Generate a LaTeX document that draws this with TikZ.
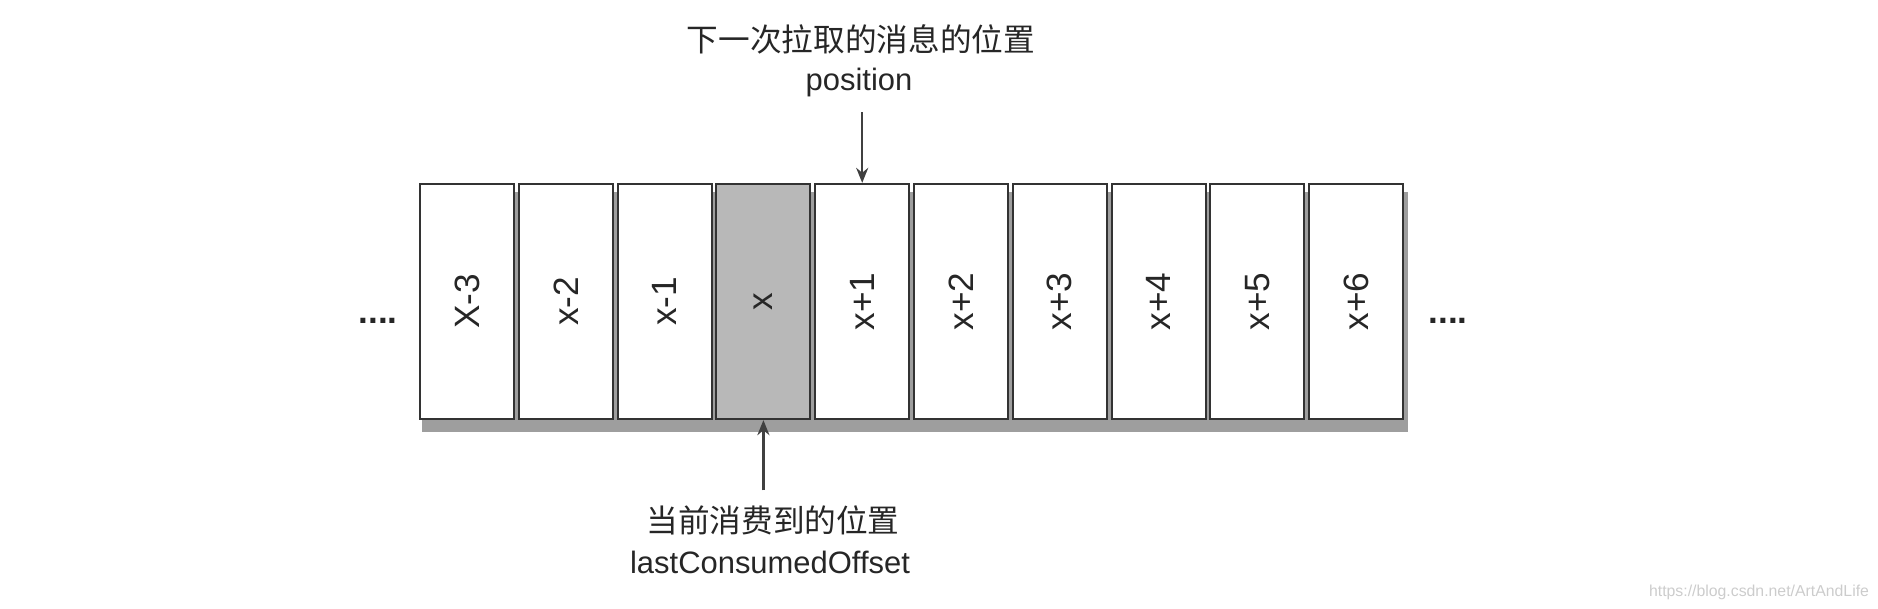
\documentclass[tikz,border=0pt]{standalone}
\usepackage{fontspec}
\setmainfont{Liberation Sans}
\newfontfamily\cjk{Noto Sans CJK SC}
\usetikzlibrary{arrows.meta}

\begin{document}
\begin{tikzpicture}[x=0.01cm,y=0.01cm,
  cell/.style={draw=black!80,line width=0.6pt,fill=white,minimum width=0.94cm,
    minimum height=2.35cm,inner sep=0pt,text=black!85,font=\fontsize{10pt}{12pt}\selectfont},
  cur/.style={cell,fill=black!28},
  lbl/.style={inner sep=0pt,text=black!85,font=\fontsize{8.8pt}{10pt}\selectfont},
  cn/.style={inner sep=0pt,text=black!85,font=\cjk\fontsize{9pt}{11pt}\selectfont},
  arr/.style={-{Stealth[length=0.15cm,width=0.12cm]},draw=black!75,line width=0.7pt}]
\useasboundingbox (0,0) rectangle (1878,608);
% shadow under the row
\fill[black!38] (422,176) rectangle (1408,416);
\foreach \t/\s [count=\i] in {X-3/cell,x-2/cell,x-1/cell,x/cur,x+1/cell,x+2/cell,x+3/cell,x+4/cell,x+5/cell,x+6/cell}
  \node[\s] (b\i) at ({467+98.8*(\i-1)},306.5) {\rotatebox{90}{\t}};
\node[lbl,font=\bfseries\fontsize{10pt}{12pt}\selectfont,anchor=base] (ldots) at (378,285) {....};
\node[lbl,font=\bfseries\fontsize{10pt}{12pt}\selectfont,anchor=base] (rdots) at (1448,285) {....};
% next fetch
\node[cn,anchor=base] (nextcn) at (861,557) {下一次拉取的消息的位置};
\node[lbl,anchor=base] (nextpos) at (859,518) {position};
\draw[arr,shorten <=0.15cm] (b5.north |- nextpos.south) -- (b5.north);
% consumed
\node[cn,anchor=base] (nowcn) at (773,76) {当前消费到的位置};
\node[lbl,anchor=base] (nowoff) at (770,35) {lastConsumedOffset};
\draw[arr,shorten <=0.14cm] (b4.south |- nowcn.north) -- (b4.south);
\node[lbl,anchor=base,text=black!20,font=\fontsize{4.5pt}{5pt}\selectfont] (mark) at (1759,12) {https://blog.csdn.net/ArtAndLife};
\end{tikzpicture}
\end{document}
